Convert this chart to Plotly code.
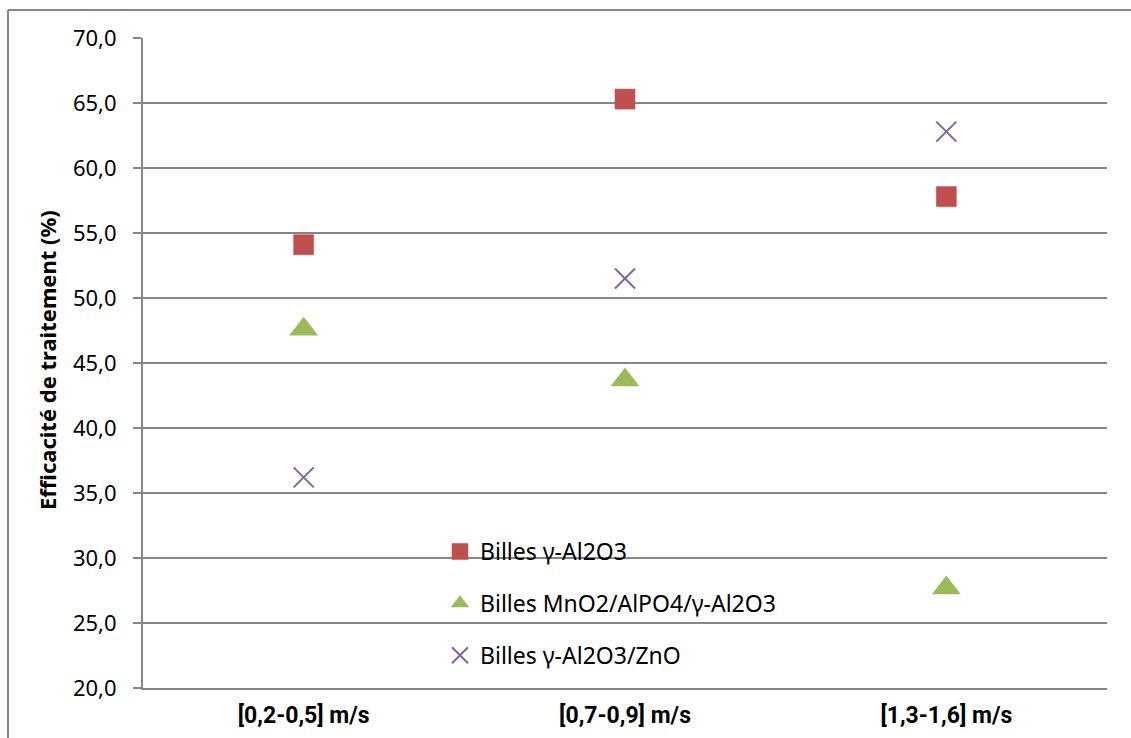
import plotly.graph_objects as go

categories = ["[0,2-0,5] m/s", "[0,7-0,9] m/s", "[1,3-1,6] m/s"]
series_names = ["Billes γ-Al2O3", "Billes MnO2/AlPO4/γ-Al2O3", "Billes γ-Al2O3/ZnO"]
vals_al2o3 = [54.1, 65.3, 57.8]
vals_mno2 = [47.6, 43.7, 27.7]
vals_zno = [36.2, 51.5, 62.8]
y_ticks = [20, 25, 30, 35, 40, 45, 50, 55, 60, 65, 70]
y_ticklabels = ["20,0", "25,0", "30,0", "35,0", "40,0", "45,0", "50,0", "55,0", "60,0", "65,0", "70,0"]
y_title = "Efficacité de traitement (%)"

W, H = 1131, 738
ML, MR, MT, MB = 143, 24, 38, 50
pw, ph = W - ML - MR, H - MT - MB

def px(x):
    return (x - ML) / pw

def py(y):
    return (H - MB - y) / ph

fig = go.Figure()
fig.add_trace(go.Scatter(
    x=categories, y=vals_al2o3, mode="markers", name=series_names[0], legendgroup="a",
    marker=dict(symbol="square", size=20, color="#C0504D", line=dict(width=0.5, color="#B94A47"))))
fig.add_trace(go.Scatter(
    x=categories, y=vals_mno2, mode="markers", name=series_names[1], legendgroup="b",
    marker=dict(symbol="triangle-up", size=25, color="#9BBB59", line=dict(width=0))))
fig.add_trace(go.Scatter(
    x=categories, y=vals_zno, mode="markers", name=series_names[2], legendgroup="c",
    marker=dict(symbol="x-thin", size=20, color="#8064A2", line=dict(width=2, color="#8064A2"))))

fig.update_layout(
    width=W, height=H,
    margin=dict(l=ML, r=MR, t=MT, b=MB, pad=0, autoexpand=False),
    paper_bgcolor="white", plot_bgcolor="white",
    font=dict(family="Noto Sans, DejaVu Sans, sans-serif", size=21, color="#000000"),
    showlegend=True,
    legend=dict(
        x=px(440), y=py(530), xanchor="left", yanchor="top",
        bgcolor="rgba(0,0,0,0)", borderwidth=0,
        font=dict(family="Noto Sans, sans-serif", size=23, color="#000000"),
        tracegroupgap=19, itemwidth=30,
    ),
    xaxis=dict(
        type="category", range=[-0.5, 2.5], automargin=False,
        showgrid=False, zeroline=False,
        showline=True, linecolor="#868686", linewidth=2,
        ticks="",
        tickfont=dict(family="Liberation Sans Narrow, Roboto, sans-serif", size=23, color="#000000", weight="bold"),
        ticklabelstandoff=5,
    ),
    yaxis=dict(
        range=[20, 70], tickvals=y_ticks, ticktext=y_ticklabels, automargin=False,
        showgrid=True, gridcolor="#868686", gridwidth=2,
        zeroline=False,
        showline=True, linecolor="#868686", linewidth=2,
        ticks="outside", ticklen=8, tickcolor="#868686", tickwidth=2,
        tickfont=dict(family="Noto Sans, sans-serif", size=22, color="#000000"),
        ticklabelstandoff=12,
    ),
)

fig.add_annotation(text=y_title, xref="paper", yref="paper", x=px(47), y=py(360),
                   xanchor="center", yanchor="middle", textangle=-90, showarrow=False,
                   font=dict(family="Noto Sans, sans-serif", size=22, color="#000000", weight="bold"))

# outer chart border (left and top edges visible)
fig.add_shape(type="line", xref="paper", yref="paper",
              x0=px(8), x1=px(1140), y0=py(10), y1=py(10),
              line=dict(color="#878787", width=2))
fig.add_shape(type="line", xref="paper", yref="paper",
              x0=px(8), x1=px(8), y0=py(10), y1=py(760),
              line=dict(color="#878787", width=2))

fig.write_html("out.html", config={"displayModeBar": False},
               post_script="document.body.style.margin='0';document.body.style.overflow='hidden';")
